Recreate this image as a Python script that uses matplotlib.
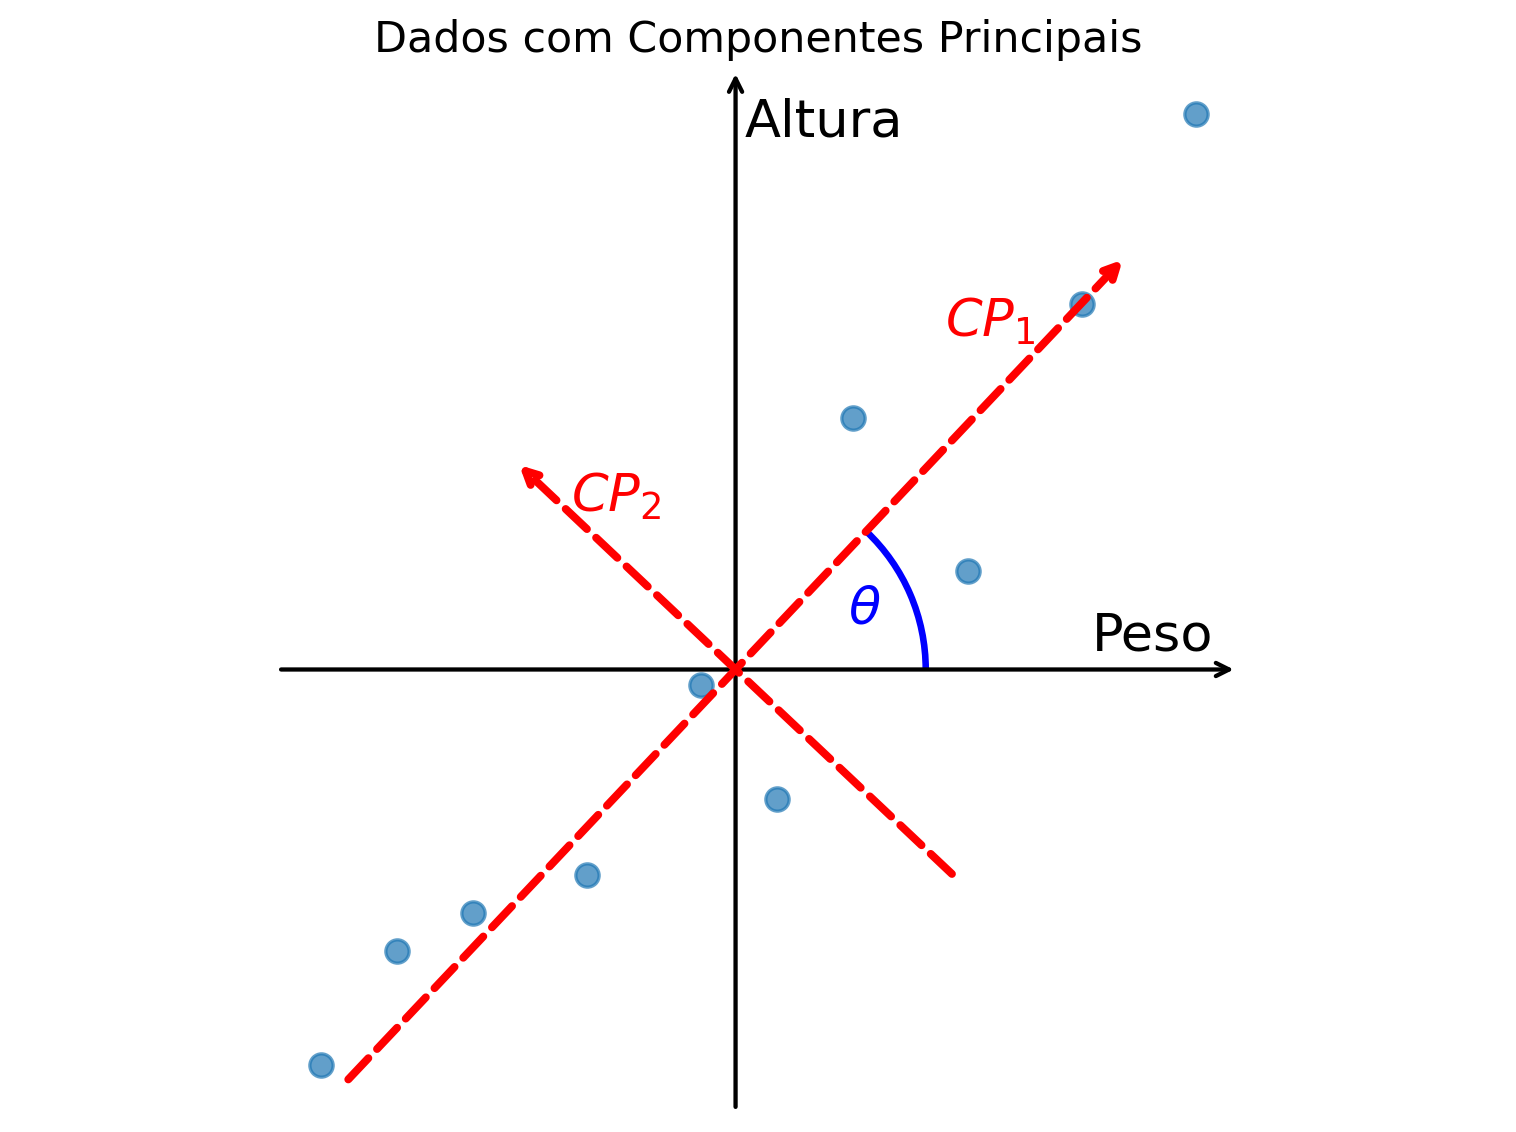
import numpy as np
import matplotlib
matplotlib.use("Agg")
import matplotlib.pyplot as plt
from matplotlib.patches import Arc

# dados (peso x altura), depois centrados na media
peso = [0, 2, 4, 7, 10, 12, 14, 17, 20, 23]
altura = [0, 3, 4, 5, 10, 7, 17, 13, 20, 25]
comp_cp1 = 15   # comprimento da seta CP1
comp_cp2 = 8    # comprimento da seta CP2
raio_theta = 5

x = np.array(peso, dtype=float)
y = np.array(altura, dtype=float)
x = x - x.mean()
y = y - y.mean()

# componentes principais
cov = np.cov(np.vstack([x, y]))
autoval, autovet = np.linalg.eigh(cov)
ordem = np.argsort(autoval)[::-1]
v1 = autovet[:, ordem[0]]
v2 = autovet[:, ordem[1]]
if v1[0] < 0:
    v1 = -v1
if v2[1] < 0:
    v2 = -v2
theta = np.degrees(np.arctan2(v1[1], v1[0]))

fig = plt.figure(figsize=(6.4, 4.783), dpi=236.875)
ax = fig.add_axes([0, 0, 1, (1133 - 68) / 1133])
ax.set_xlim(-19.34, 20.52)
ax.set_ylim(-12.16, 15.84)
ax.axis('off')

ax.scatter(x, y, s=50, alpha=0.7, color='#1f77b4', zorder=3)

# eixos
ax.annotate('', xy=(x.max() + 1.0, 0), xytext=(x.min() - 1.05, 0),
            arrowprops=dict(arrowstyle='->', color='black', lw=1.3, shrinkA=0, shrinkB=0))
ax.annotate('', xy=(0, y.max() + 1.06), xytext=(0, y.min() - 1.1),
            arrowprops=dict(arrowstyle='->', color='black', lw=1.3, shrinkA=0, shrinkB=0))
ax.text(10.96, 0.88, 'Peso', fontsize=16, ha='center', va='center')
ax.text(0.25, 14.4, 'Altura', fontsize=16, ha='left', va='center')

# setas das componentes
ax.annotate('', xy=tuple(comp_cp1 * v1), xytext=tuple(-comp_cp1 * v1),
            arrowprops=dict(arrowstyle='->', color='red', lw=2.4, linestyle='--',
                            capstyle='round'))
ax.annotate('', xy=tuple(comp_cp2 * v2), xytext=tuple(-comp_cp2 * v2),
            arrowprops=dict(arrowstyle='->', color='red', lw=2.4, linestyle='--',
                            capstyle='round'))
ax.text(6.69, 9.16, r'$CP_1$', color='red', fontsize=16, ha='center', va='center')
ax.text(-3.14, 4.56, r'$CP_2$', color='red', fontsize=16, ha='center', va='center')

# angulo
arco = Arc((0, 0), 2 * raio_theta, 2 * raio_theta, theta1=0, theta2=theta,
           color='blue', lw=2)
ax.add_patch(arco)
ax.text(3.4, 1.6, r'$\theta$', color='blue', fontsize=16, ha='center', va='center')

ax.set_title('Dados com Componentes Principais', fontsize=13, pad=5)

fig.savefig('out.png')
